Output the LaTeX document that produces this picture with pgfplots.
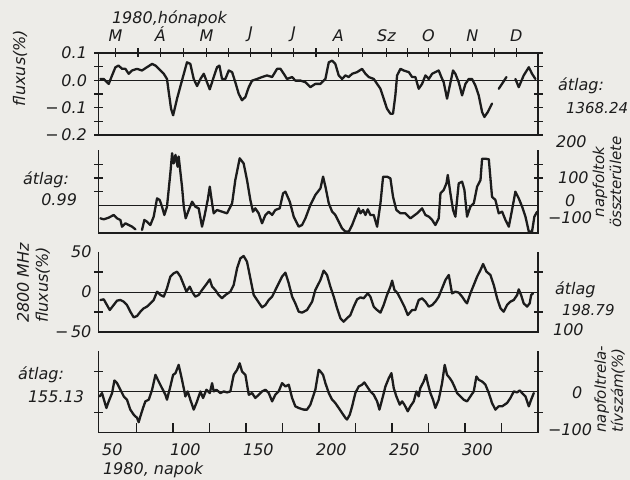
\documentclass[border=0pt]{standalone}
\usepackage{fontspec}
\setmainfont{DejaVu Sans}[ItalicFont={DejaVu Sans Oblique}]
\usepackage{pgfplots}
\pgfplotsset{compat=1.18}
\definecolor{paper}{RGB}{237,236,232}
\definecolor{ink}{RGB}{28,28,28}
\tikzset{
  frame/.style={ink, line width=0.7pt},
  zero/.style={ink, line width=0.45pt},
}
\pgfplotsset{
  panel/.style={
    scale only axis, width=219.75pt, anchor=south west,
    xmin=40.5, xmax=341.5, clip=false,
    axis line style={draw=none},
    tick style={ink, line width=0.6pt},
    tick align=center,
    major tick length=4.5pt, minor tick length=4.5pt,
    xtick=\empty,
    ytick pos=both, yticklabel pos=left,
    tick label style={font=\fontsize{8}{9}\selectfont\itshape, text=ink},
  },
  trace/.style={ink, line width=1.15pt, line join=round, line cap=round, mark=none},
}
\begin{document}
\begin{tikzpicture}[font=\fontsize{8}{9.5}\selectfont\itshape, text=ink]
\path[use as bounding box, fill=paper] (0,0) rectangle (315pt,240pt);

% ---------- panel 1: fluxus (%)
\begin{axis}[panel, at={(49.25pt,172.5pt)}, height=41pt, ymin=-0.2, ymax=0.1,
  ytick={-0.2,-0.15,-0.1,-0.05,0,0.05,0.1},
  yticklabels={−\,0.2,,−\,0.1,,0.0,,0.1},
  xtick={52.1,82.9,114.4,144.5,174,204.8,237.7,266.4,296.6,326.7},
  xticklabels={M,Á,M,J,J,A,Sz,O,N,D},
  minor xtick={67.5,98.6,129.5,159.2,189.4,221.2,252,281.5,311.6},
  xtick pos=right, xticklabel pos=right]
\addplot[trace] coordinates {(41.8,0.005)(44.1,0.005)(47.5,-0.013)(49.8,0.018)(52.1,0.048)(54.3,0.054)(56.6,0.042)(58.9,0.042)(61.2,0.024)(63.5,0.036)(66.9,0.042)(70.3,0.036)(73.7,0.048)(77.2,0.06)(79.5,0.054)(82.9,0.036)(85.2,0.024)(87.4,0.005)(88.6,-0.043)(90.2,-0.104)(91.6,-0.128)(93.2,-0.092)(94.3,-0.067)(97.7,0.0)(101.1,0.066)(103.4,0.06)(105.7,0.005)(108.0,-0.021)(110.3,0.005)(112.6,0.024)(114.8,-0.007)(116.7,-0.033)(119.4,0.012)(121.7,0.048)(123.3,0.054)(125.1,0.005)(127.4,0.005)(129.7,0.036)(132.0,0.03)(134.2,-0.007)(136.5,-0.049)(138.8,-0.073)(141.1,-0.061)(143.4,-0.025)(145.7,-0.001)(149.1,0.005)(152.5,0.012)(155.9,0.018)(159.4,0.012)(162.8,0.042)(165.1,0.042)(167.4,0.024)(169.6,0.005)(173.1,0.012)(175.3,-0.001)(178.8,-0.001)(182.2,-0.007)(185.6,-0.025)(189.0,-0.013)(192.5,-0.013)(195.9,0.005)(198.2,0.066)(200.5,0.072)(202.7,0.06)(205.0,0.018)(207.3,0.005)(209.6,0.018)(211.9,0.012)(214.2,0.024)(217.6,0.03)(221.0,0.042)(223.3,0.024)(225.6,0.012)(229.0,0.005)(231.3,-0.013)(233.6,-0.031)(235.8,-0.067)(238.1,-0.104)(240.4,-0.122)(242.2,-0.122)(243.8,-0.055)(245.0,0.018)(247.3,0.042)(249.5,0.036)(253.0,0.03)(255.3,0.012)(257.5,0.012)(259.8,-0.031)(262.1,-0.013)(264.4,0.018)(266.7,0.005)(269.0,0.024)(271.2,0.03)(273.5,0.036)(275.3,0.012)(276.9,-0.007)(279.2,-0.067)(281.1,-0.019)(283.3,0.036)(284.9,0.024)(287.2,-0.007)(289.5,-0.055)(291.8,-0.013)(294.1,0.005)(296.3,0.005)(298.6,-0.019)(300.9,-0.055)(303.2,-0.116)(304.8,-0.134)(307.1,-0.116)(310.0,-0.085)};
\addplot[trace] coordinates {(314.6,-0.031)(319.9,0.012)};
\addplot[trace] coordinates {(326.0,0.005)(328.3,-0.025)(331.7,0.018)(335.2,0.048)(337.4,0.024)(339.7,0.005)};
\draw[zero] (axis cs:40.5,0) -- (axis cs:341.5,0);
\draw[frame] (rel axis cs:0,0) rectangle (rel axis cs:1,1);
\end{axis}

% ---------- panel 2: napfoltok összterülete
\begin{axis}[panel, at={(49.25pt,123.5pt)}, height=41.25pt, ymin=-100, ymax=200,
  ytick={50,100,150}, yticklabels={}]
\addplot[trace] coordinates {(41.8,-46.7)(44.1,-50.3)(47.5,-44.2)(50.9,-34.5)(53.2,-46.7)(55.5,-52.7)(56.6,-77)(58.9,-64.8)(61.2,-70.9)(63.5,-77)(65.8,-86.7)};
\addplot[trace] coordinates {(70.3,-89.1)(71.9,-52.7)(73.7,-58.8)(76.0,-70.9)(78.3,-40.6)(80.6,26)(82.4,20)(84.0,-4.2)(85.6,-34.5)(87.4,-4.2)(89.7,117)(90.9,190)(92.0,153)(93.2,184)(94.7,141)(95.4,178)(97.7,68.5)(98.9,-4.2)(100.2,-46.7)(102.3,-16.4)(104.6,13.9)(106.8,-4.2)(109.1,-10.3)(111.4,-77)(113.0,-40.6)(115.3,20)(116.7,68.5)(118.3,7.9)(119.4,-28.5)(121.7,-16.4)(125.1,-22.4)(128.5,-28.5)(132.0,7.9)(134.2,92.7)(137.2,171.5)(139.9,153)(142.2,92.7)(144.5,20)(146.3,-22.4)(147.9,-10.3)(150.2,-28.5)(152.5,-64.8)(154.8,-34.5)(157.1,-22.4)(159.4,-34.5)(161.6,-16.4)(164.6,-10.3)(166.9,44.2)(168.5,50.3)(171.5,13.9)(174.2,-40.6)(177.6,-77)(179.9,-70.9)(182.2,-46.7)(185.6,1.8)(189.0,38.2)(192.5,62.4)(194.3,105)(195.9,68.5)(198.2,7.9)(200.5,-22.4)(202.7,-34.5)(205.0,-58.8)(207.3,-83)(209.6,-95)(211.9,-95)(214.2,-71)(216.4,-40.6)(218.7,-10.3)(219.9,-28.5)(221.7,-16.4)(223.3,-34.5)(224.9,-14)(226.7,-34.5)(229.0,-34.5)(231.3,-77)(233.6,7.9)(235.4,104.8)(238.1,104.8)(240.4,98.8)(242.2,32.1)(244.5,-16.4)(247.3,-28.5)(250.7,-28.5)(254.1,-46.7)(258.7,-28.5)(262.1,-10.3)(264.4,-34.5)(266.7,-40.6)(269.0,-52.7)(271.2,-71)(273.5,-46.7)(274.7,44.2)(276.9,56.4)(278.8,80.6)(279.7,111)(281.5,44.2)(283.3,-16.4)(284.9,-40.6)(287.2,80.6)(289.5,86.7)(291.1,56.4)(292.9,-40.6)(295.2,-4.2)(297.5,7.9)(299.8,68.5)(302.1,92.7)(303.2,170)(305.5,170)(307.8,168)(310.0,32.1)(312.3,20)(314.6,-28.5)(316.9,-22.4)(319.2,-52.7)(321.5,-77)(323.7,-16.4)(326.0,50.3)(328.3,26)(330.6,-4.2)(332.9,-40.6)(335.2,-95)(337.4,-95)(339.0,-40.6)(340.9,-22.4)};
\draw[zero] (axis cs:40.5,0) -- (axis cs:341.5,0);
\draw[frame] (rel axis cs:0,1) -- (rel axis cs:0,0) -- (rel axis cs:1,0) -- (rel axis cs:1,1);
\end{axis}

% ---------- panel 3: 2800 MHz fluxus (%)
\begin{axis}[panel, at={(49.25pt,74pt)}, height=40pt, ymin=-50, ymax=50,
  ytick={-50,0,50}, yticklabels={−\,50,0,50}, major tick length=0pt,
  minor ytick={-25,25}]
\addplot[trace] coordinates {(41.8,-10)(44.1,-9.2)(46.3,-16.3)(48.2,-22.5)(50.9,-16.3)(53.2,-10.8)(55.5,-10)(57.8,-12.1)(60.0,-16.3)(62.3,-24.6)(64.6,-31.7)(66.9,-30)(69.2,-24.6)(71.5,-20.4)(73.7,-18.3)(76.0,-14.2)(78.3,-10)(80.6,0.4)(82.9,-3.75)(85.2,-5.8)(87.4,4.6)(89.7,19.2)(92.0,23.3)(94.3,25.4)(96.6,19.2)(98.9,8.75)(100.7,0.4)(103.0,6.7)(104.6,0.4)(106.8,-5.8)(109.1,-3.75)(111.4,2.5)(114.8,10.8)(116.7,15.8)(118.3,6.7)(120.5,2.5)(122.8,-3.75)(125.1,-7.9)(127.4,-3.75)(130.8,0.4)(133.1,8.75)(135.4,29.6)(137.7,42.1)(139.9,45)(142.2,37.9)(144.5,17.1)(146.8,-3.75)(149.1,-10)(152.5,-19.2)(154.8,-16.3)(157.1,-10)(159.4,-5.8)(162.8,6.7)(166.2,19.2)(168.5,24.2)(170.8,10.8)(173.1,-5.8)(175.3,-14.2)(177.6,-24.6)(179.9,-25.8)(183.3,-22.5)(186.8,-12.1)(189.0,2.5)(192.5,15)(194.7,26.7)(197.0,21.3)(199.3,6.7)(201.6,-5.8)(203.9,-20.4)(206.2,-32.9)(208.4,-37.1)(210.7,-32.9)(213.0,-28.8)(215.3,-18.3)(217.6,-9.2)(219.9,-6.7)(222.1,-7.9)(224.9,-1.7)(226.7,-5.8)(229.0,-18.3)(231.3,-22.5)(233.6,-25.8)(235.8,-16.3)(238.1,-3.75)(240.4,6.7)(241.6,14.2)(243.2,2.5)(245.4,-1.7)(247.7,-10)(250.0,-18.3)(252.3,-28.8)(255.3,-22.5)(257.5,-22.5)(259.8,-10)(262.1,-7.9)(264.4,-12.1)(266.7,-18.3)(269.0,-16.3)(271.2,-12.1)(273.5,-5.8)(275.8,4.6)(278.1,15)(280.4,21.3)(282.6,-1.7)(284.9,0.4)(287.2,-0.8)(289.5,-5.8)(291.8,-12.1)(292.9,-14.2)(295.2,-1.7)(297.5,8.75)(299.8,19.2)(302.1,27.5)(303.9,35)(306.2,25.4)(308.9,21.3)(311.2,8.75)(313.5,-7.9)(315.8,-20.4)(318.0,-24.6)(320.3,-16.3)(322.6,-12.1)(324.9,-10)(327.2,-3.75)(328.3,3.3)(329.9,-3.75)(331.7,-14.2)(334.0,-18.3)(335.8,-14.2)(336.8,-3.75)(338.1,-1.7)};
\draw[zero] (axis cs:40.5,0) -- (axis cs:341.5,0);
\draw[frame] (rel axis cs:0,1) -- (rel axis cs:0,0) -- (rel axis cs:1,0) -- (rel axis cs:1,1);
\end{axis}

% ---------- panel 4: napfoltrelatívszám (%) -- y ticks
\begin{axis}[panel, at={(49.25pt,23.75pt)}, height=40.75pt, ymin=-100, ymax=100,
  ytick={-50,50}, yticklabels={}]
\end{axis}
% ---------- panel 4: data and day axis
\begin{axis}[panel, at={(49.25pt,23.75pt)}, height=40.75pt, ymin=-100, ymax=100,
  ytick=\empty, tick align=inside,
  xtick={50,100,150,200,250,300}, xticklabels={50,100,150,200,250,300},
  xticklabel style={yshift=-2pt},
  major tick length=0pt,
  minor xtick={66.5,91.5,116.5,141.5,166.5,191.5,216.5,241.5,266.5,291.5,316.5},
  xtick pos=left, xticklabel pos=left]
\addplot[trace] coordinates {(41.3,-11.4)(42.9,-3.3)(44.1,-17.9)(45.9,-39.8)(47.5,-23.6)(49.8,-3.3)(51.4,27.6)(53.2,21.1)(55.5,4.9)(57.8,-11.4)(60.0,-19.5)(62.3,-43.9)(64.6,-56.1)(66.9,-64.2)(68.0,-74.8)(69.2,-60.2)(71.0,-39.8)(72.6,-23.6)(74.9,-19.5)(77.2,4.9)(79.5,41.5)(81.7,25.2)(84.0,8.9)(86.3,-7.3)(87.4,-19.5)(89.7,13)(91.6,41.5)(93.2,45.5)(95.4,65.9)(97.7,29.3)(100.0,-11.4)(101.6,0.8)(103.4,-19.5)(105.7,-43.9)(108.0,-23.6)(110.3,0.8)(112.1,-15.4)(114.4,4.9)(116.7,-3.3)(118.3,21.1)(119.4,0.8)(121.2,4.9)(124.0,-3.3)(126.3,0.8)(128.5,-1.6)(130.8,0.8)(133.1,41.5)(135.4,53.7)(137.2,69.9)(138.8,49.6)(141.1,41.5)(143.4,-7.3)(145.7,-3.3)(147.9,-15.4)(150.2,-7.3)(152.5,0.8)(154.8,4.9)(157.1,-3.3)(159.4,-23.6)(161.6,-7.3)(163.9,0.8)(166.2,21.1)(168.5,13)(170.8,17.1)(173.1,-15.4)(175.3,-35.8)(177.6,-39.8)(181.1,-43.9)(183.3,-43.9)(185.6,-31.7)(189.0,4.9)(191.3,53.7)(192.0,52)(194.3,41.5)(195.9,21.1)(198.2,-3.3)(200.5,-19.5)(202.7,-27.6)(205.0,-39.8)(207.3,-52)(209.6,-64.2)(210.7,-68.3)(212.6,-56.1)(214.2,-35.8)(216.4,-3.3)(218.7,13)(221.0,17.1)(222.6,22.8)(224.4,13)(226.7,0.8)(229.0,-7.3)(231.3,-23.6)(232.9,-43.9)(234.7,-19.5)(237.0,13)(239.3,33.3)(241.1,45.5)(242.7,8.9)(244.5,-11.4)(246.8,-31.7)(248.4,-23.6)(250.0,-31.7)(252.3,-48)(254.1,-35.8)(256.4,-23.6)(258.2,0.8)(259.8,-11.4)(260.9,8.9)(263.2,25.2)(264.8,41.5)(266.0,21.1)(267.8,-3.3)(269.6,-19.5)(271.2,-39.8)(273.5,-19.5)(275.8,21.1)(277.6,65.9)(279.2,41.5)(281.1,33.3)(282.6,25.2)(284.2,13)(286.1,-3.3)(288.4,-11.4)(290.6,-19.5)(292.9,-23.6)(295.2,-11.4)(297.5,0.8)(299.3,37.4)(300.9,29.3)(303.2,25.2)(305.5,17.1)(307.8,-3.3)(310.0,-27.6)(312.3,-43.9)(314.6,-35.8)(316.9,-35.8)(320.3,-27.6)(322.6,-15.4)(324.9,0.8)(327.2,-1.6)(329.0,3.3)(330.6,-3.3)(332.9,-11.4)(335.2,-35.8)(336.8,-19.5)(338.6,-3.3)};
\draw[zero] (axis cs:40.5,0) -- (axis cs:341.5,0);
\draw[frame] (rel axis cs:0,1) -- (rel axis cs:0,0) -- (rel axis cs:1,0) -- (rel axis cs:1,1);
\end{axis}

% ---------- texts (pixel coordinates of the 630x480 reference)
\begin{scope}[x=0.5pt, y=-0.5pt, yshift=240pt]
\node[anchor=west] at (105,19) {1980,hónapok};
\node[rotate=90] at (20,68) {fluxus(\%)};
\node[anchor=west] at (551,86) {átlag:};
\node[anchor=west, font=\fontsize{7.5}{9}\selectfont\itshape] at (559,108) {1368.24};
\node[anchor=west] at (16,180) {átlag:};
\node[anchor=east] at (84,200) {0.99};
\node[anchor=west] at (549,142) {200};
\node[anchor=west] at (551,178) {100};
\node[anchor=west] at (558,201) {0};
\node[anchor=west] at (541,218) {−100};
\node[rotate=90, align=center, inner sep=0pt, font=\fontsize{7.5}{8.5}\selectfont\itshape] at (607,182) {napfoltok\\összterülete};
\node[rotate=90, align=left, anchor=north west] at (10,330) {2800 MHz\\fluxus(\%)};
\node[anchor=west] at (548,290) {átlag};
\node[anchor=west, font=\fontsize{7.5}{9}\selectfont\itshape] at (555,310) {198.79};
\node[anchor=west] at (546,330) {100};
\node[anchor=west] at (11,375) {átlag:};
\node[anchor=west] at (21,397) {155.13};
\node[anchor=west] at (565,393) {0};
\node[anchor=west] at (541,430) {−100};
\node[rotate=90, align=left, anchor=north west, inner sep=0pt, font=\fontsize{7.5}{8.5}\selectfont\itshape] at (594,433) {napfoltrela-\\tívszám(\%)};
\node[anchor=west] at (96,470) {1980, napok};
\end{scope}
\end{tikzpicture}
\end{document}
